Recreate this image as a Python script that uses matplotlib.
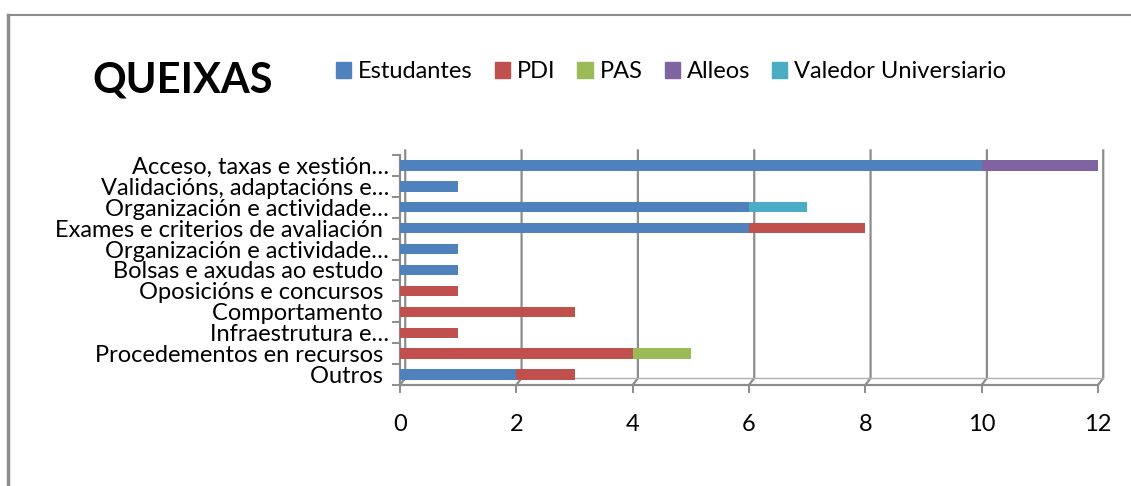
import matplotlib
matplotlib.use('Agg')
import matplotlib.pyplot as plt
import matplotlib.transforms as mtransforms
from matplotlib.lines import Line2D
import numpy as np

plt.rcParams['font.family'] = ['Lato', 'DejaVu Sans']

# Data (top to bottom as in the chart)
categories = [
    'Acceso, taxas e xestión…',
    'Validacións, adaptacións e…',
    'Organización e actividade…',
    'Exames e criterios de avaliación ',
    'Organización e actividade…',
    'Bolsas e axudas ao estudo ',
    'Oposicións e concursos ',
    'Comportamento ',
    'Infraestrutura e…',
    'Procedementos en recursos ',
    'Outros ',
]
series_names = ['Estudantes', 'PDI', 'PAS', 'Alleos', 'Valedor Universiario']
estudantes = [10, 1, 6, 6, 1, 1, 0, 0, 0, 0, 2]
pdi        = [0, 0, 0, 2, 0, 0, 1, 3, 1, 4, 1]
pas        = [0, 0, 0, 0, 0, 0, 0, 0, 0, 1, 0]
alleos     = [2, 0, 0, 0, 0, 0, 0, 0, 0, 0, 0]
valedor    = [0, 0, 1, 0, 0, 0, 0, 0, 0, 0, 0]
colors = ['#4F81BD', '#C0504D', '#9BBB59', '#8064A2', '#4BACC6']
xticks = [0, 2, 4, 6, 8, 10, 12]

fig = plt.figure(figsize=(11.31, 4.86), dpi=100)
ax = fig.add_axes([400 / 1131, 1 - 385 / 486, 698 / 1131, 230 / 486])

y = np.arange(len(categories))[::-1]
left = np.zeros(len(categories))
for name, vals, col in zip(series_names, [estudantes, pdi, pas, alleos, valedor], colors):
    vals = np.array(vals, dtype=float)
    ax.barh(y, vals, left=left, height=0.5, color=col, edgecolor='none', zorder=3)
    left += vals

ax.set_xlim(0, 12)
ax.set_ylim(-0.5, len(categories) - 0.5)

# pseudo 3D gridlines (kinked at the floor)
trans = mtransforms.blended_transform_factory(ax.transData, ax.transAxes)
d = 0.09
for xv in xticks:
    ax.add_line(Line2D([xv, xv + d, xv + d], [0, 0.03, 1.02], transform=trans,
                       color='#8c8c8c', lw=1.6, zorder=1, clip_on=False))
ax.add_line(Line2D([0, 12], [0, 0], transform=trans, color='#8c8c8c', lw=1.6, clip_on=False))
ax.add_line(Line2D([d, 12 + d], [0.03, 0.03], transform=trans, color='#b0b0b0', lw=1.0, clip_on=False))

for s in ax.spines.values():
    s.set_visible(False)
ax.spines['left'].set_visible(True)
ax.spines['left'].set_color('#8c8c8c')
ax.spines['left'].set_linewidth(1.6)

ax.set_yticks(y)
ax.set_yticklabels(categories, fontsize=17)
ax.set_yticks(np.arange(len(categories) + 1) - 0.5, minor=True)
ax.tick_params(axis='y', which='major', length=0, pad=8)
ax.tick_params(axis='y', which='minor', length=6, color='#8c8c8c', width=1.4)
ax.set_xticks(xticks)
ax.set_xticklabels([str(v) for v in xticks], fontsize=17)
ax.tick_params(axis='x', length=6, color='#8c8c8c', width=1.4, pad=15)

# outer chart frame (top and left edges)
fig.add_artist(Line2D([8 / 1131, 1], [1 - 15 / 486, 1 - 15 / 486], transform=fig.transFigure,
                      color='#8c8c8c', lw=1.5))
fig.add_artist(Line2D([8 / 1131, 8 / 1131], [0, 1 - 15 / 486], transform=fig.transFigure,
                      color='#8c8c8c', lw=2.5))

fig.text(183 / 1131, 1 - 80 / 486, 'QUEIXAS', fontsize=30, fontweight='bold',
         ha='center', va='center')

handles = [plt.Rectangle((0, 0), 1, 1, color=c) for c in colors]
fig.legend(handles, series_names, loc='center left', bbox_to_anchor=(336 / 1131, 1 - 72 / 486),
           ncol=5, frameon=False, fontsize=17, handlelength=0.64, handleheight=0.64,
           handletextpad=0.3, columnspacing=0.93, borderaxespad=0, borderpad=0)

plt.savefig('out.png', dpi=100)
